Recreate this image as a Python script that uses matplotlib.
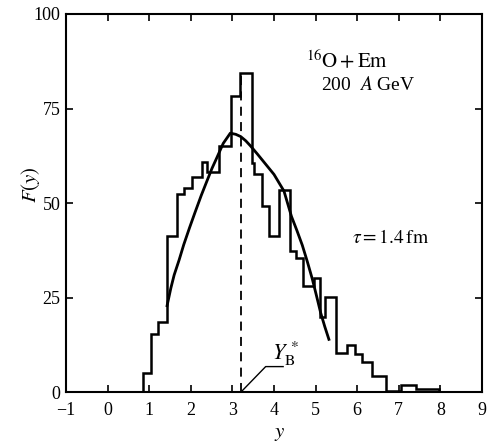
import numpy as np
import matplotlib
matplotlib.use("Agg")
import matplotlib.pyplot as plt

plt.rcParams['font.family'] = ['Liberation Serif', 'DejaVu Serif']
plt.rcParams['mathtext.fontset'] = 'stix'

# histogram of rapidity distribution (bin edges and heights)
bin_edges = [0.84, 1.05, 1.22, 1.43, 1.67, 1.83, 2.04, 2.28, 2.40, 2.69, 2.96,
             3.19, 3.46, 3.51, 3.71, 3.87, 4.12, 4.38, 4.52, 4.70, 4.96, 5.10,
             5.22, 5.48, 5.75, 5.94, 6.12, 6.35, 6.69, 7.05, 7.41, 7.96]
counts = [5.1, 15.3, 18.6, 41.2, 52.3, 54.0, 57.0, 60.8, 58.3, 65.2, 78.3,
          84.4, 60.5, 57.6, 49.2, 41.2, 53.4, 37.3, 35.6, 28.2, 30.2, 19.8,
          25.1, 10.4, 12.6, 10.2, 7.9, 4.4, 0.4, 2.0, 1.0]

# model curve (tau = 1.4 fm)
curve_y = [1.43, 1.52, 1.60, 1.72, 1.83, 1.97, 2.10, 2.25, 2.39, 2.51, 2.63,
           2.78, 2.95, 3.08, 3.20, 3.32, 3.43, 3.60, 3.80, 4.00, 4.24, 4.42,
           4.55, 4.68, 4.80, 4.92, 5.02, 5.12, 5.22, 5.32]
curve_F = [22.9, 27.5, 31.0, 35.0, 39.0, 43.5, 47.5, 52.0, 55.9, 59.2, 62.1,
           65.8, 68.5, 68.2, 67.6, 66.5, 65.2, 63.0, 60.3, 57.6, 53.2, 46.5,
           42.8, 38.9, 34.6, 30.0, 25.6, 21.1, 17.4, 14.0]

yb_star = 3.2      # beam-rapidity marker
yb_top = 83.5

fig = plt.figure(figsize=(4.88, 4.43), dpi=100)
ax = fig.add_axes([0.1352, 0.1144, 0.8525, 0.854])

ax.stairs(counts, bin_edges, baseline=0, color='black', lw=1.8)
ax.plot(curve_y, curve_F, color='black', lw=2.0)
ax.vlines(yb_star, 0, yb_top, colors='black', lw=1.3, linestyles=(0, (5, 3.5)))

# leader line for the Y_B* label
ax.plot([yb_star, yb_star + 0.6, yb_star + 1.02], [0, 6.8, 6.8], color='black', lw=1.0)
ax.text(3.95, 10.2, r'$Y_{\mathrm{B}}^{\,*}$', fontsize=16, va='center', ha='left')

ax.text(4.76, 87.5, r'$^{16}\mathrm{O+Em}$', fontsize=15, va='center', ha='left')
ax.text(5.12, 81.3, r'200  $A$ GeV', fontsize=14, va='center', ha='left')
ax.text(5.88, 40.7, r'$\tau=1.4\,\mathrm{fm}$', fontsize=14, va='center', ha='left')

ax.set_xlim(-1, 9)
ax.set_ylim(0, 100)
ax.set_xticks(range(-1, 10))
ax.set_yticks([0, 25, 50, 75, 100])
ax.tick_params(direction='in', length=5, width=1.2, top=True, right=True,
               labelsize=13)
ax.tick_params(axis='x', pad=7)
ax.tick_params(axis='y', pad=4)
for s in ax.spines.values():
    s.set_linewidth(1.5)

ax.set_xlabel(r'$y$', fontsize=15)
ax.set_ylabel(r'$F(y)$', fontsize=15)
ax.xaxis.set_label_coords(0.514, -0.085)
ax.yaxis.set_label_coords(-0.058, 0.548)

fig.savefig('out.png', dpi=100)
